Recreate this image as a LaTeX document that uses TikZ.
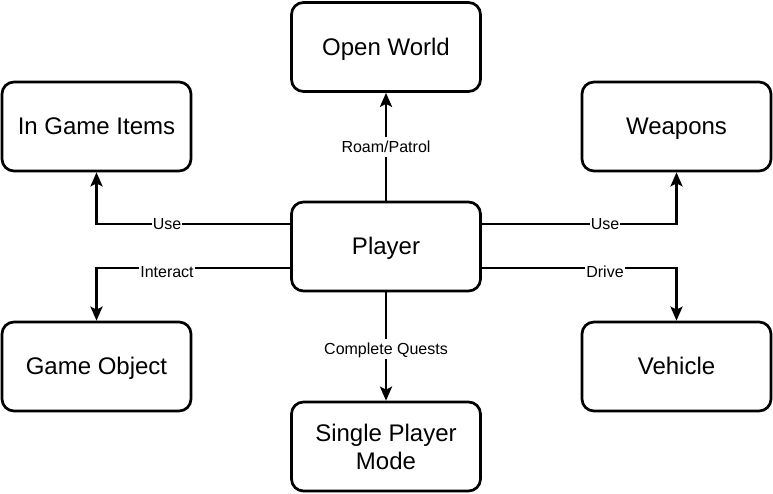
\documentclass[tikz,border=0pt]{standalone}
\usepackage{fontspec}
\setmainfont{Liberation Sans}
\usetikzlibrary{arrows.meta}
\begin{document}
\begin{tikzpicture}[x=1pt,y=-1pt,
  box/.style={draw=black,line width=2.7pt,rounded corners=12pt,minimum width=189pt,minimum height=89pt,inner sep=0pt,align=center,font=\fontsize{24}{28}\selectfont,fill=white,text height=21.7pt,text depth=5.1pt},
  box2/.style={box,text height=,text depth=},
  conn/.style={draw=black,line width=2.7pt,-{Stealth[length=14pt,width=12pt,inset=3pt]}},
  lbl/.style={fill=white,inner sep=1pt,font=\fontsize{16}{18}\selectfont,text height=14.5pt,text depth=3.4pt}]
\useasboundingbox (0,0) rectangle (773,493);
\node[box] (ow) at (386,47) {Open World};
\node[box] (igi) at (96.5,126.5) {In Game Items};
\node[box] (wp) at (676.5,126.5) {Weapons};
\node[box] (pl) at (386,246.5) {Player};
\node[box] (go) at (96.5,366.5) {Game Object};
\node[box] (vh) at (676.5,366.5) {Vehicle};
\node[box2] (sp) at (386,446.5) {Single Player\\Mode};
\coordinate (ul) at (96.5,224);
\coordinate (il) at (96.5,268);
\coordinate (ur) at (676.5,224);
\coordinate (dr) at (676.5,268);
\draw[conn] (pl.north) -- (ow.south);
\node[lbl] at (386,147) {Roam/Patrol};
\draw[conn] (pl.west |- ul) -- (ul) -- (igi.south);
\node[lbl] at (167,224) {Use};
\draw[conn] (pl.west |- il) -- (il) -- (go.north);
\node[lbl] at (167,272) {Interact};
\draw[conn] (pl.east |- ur) -- (ur) -- (wp.south);
\node[lbl] at (605,224) {Use};
\draw[conn] (pl.east |- dr) -- (dr) -- (vh.north);
\node[lbl] at (605,272) {Drive};
\draw[conn] (pl.south) -- (sp.north);
\node[lbl] at (386,349) {Complete Quests};
\end{tikzpicture}
\end{document}
